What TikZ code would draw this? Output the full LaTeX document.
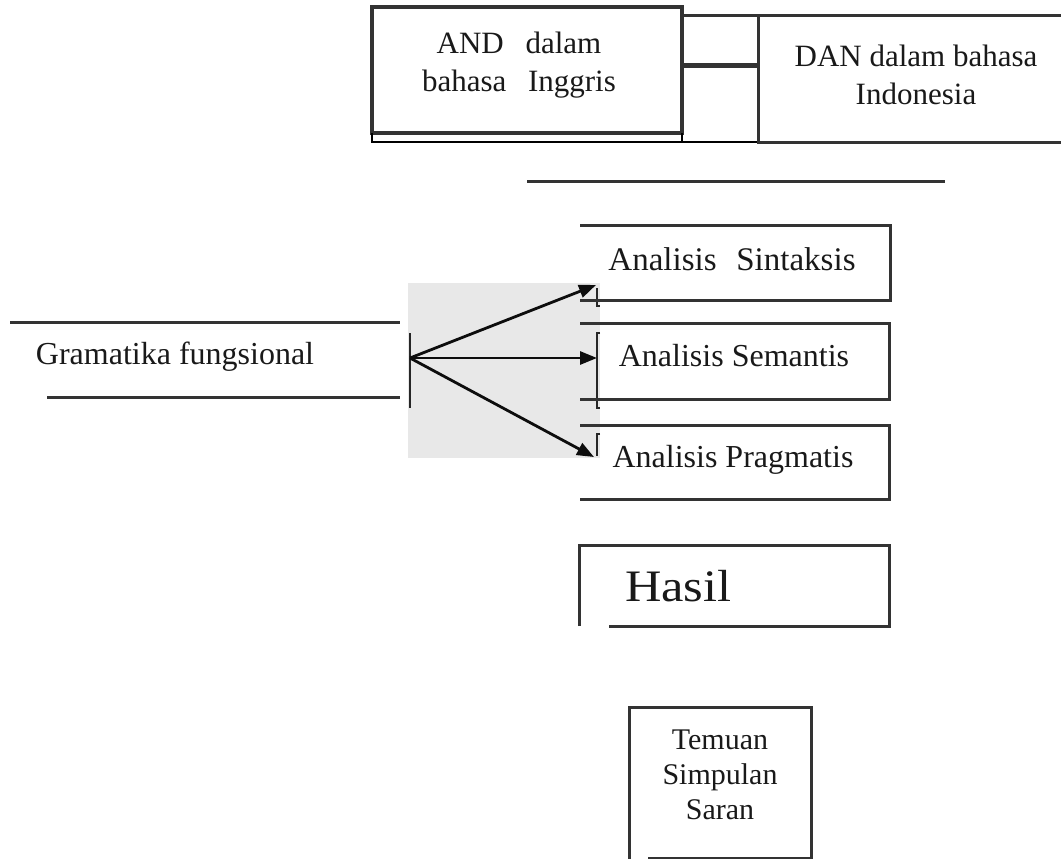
\documentclass[tikz,border=0pt]{standalone}
\usepackage{fontspec}
\setmainfont{Liberation Serif}
\usetikzlibrary{arrows.meta}
\tikzset{
  frame/.style={draw=black!80, line width=3pt},
  thinframe/.style={draw=black, line width=2pt},
  lbl/.style={font=\fontsize{32}{38}\selectfont, align=center, inner sep=0pt, text=black!90},
  arr/.style={draw=black!95, line width=2.8pt, -{Triangle[length=17pt,width=13pt]}},
  scan/.style={draw=black!85, line width=1.8pt},
}
\begin{document}
\begin{tikzpicture}[x=1pt,y=-1pt]
\useasboundingbox (0,0) rectangle (1061,859);
% top boxes
\draw[frame, line width=3.5pt] (372,7) -- (682,7) -- (682,133) -- (372,133) -- cycle;
\draw[thinframe] (372,133) -- (372,142) -- (758,142);
\draw[thinframe] (682,133) -- (682,142);
\draw[frame, line width=5pt] (682,66) -- (758,66);
\draw[frame] (682,16) -- (1061,16);
\draw[frame] (758,16) -- (758,142) -- (1061,142);
\node[lbl, font=\fontsize{31}{38}\selectfont] (and) at (519,65) {AND\hspace{0.7em}dalam\\bahasa\hspace{0.7em}Inggris};
\node[lbl, font=\fontsize{31}{38}\selectfont] (dan) at (916,75) {DAN dalam bahasa\\Indonesia};
% separator line
\draw[frame] (527,181) -- (945,181);
% scanned patch
\fill[black!9] (408,283) rectangle (600,458);
\draw[draw=black!85, line width=2pt] (410,333) -- (410,408);
\coordinate (apex) at (410,358);
\coordinate (t1) at (596,285);
\coordinate (t2) at (597,358);
\coordinate (t3) at (594,457);
\draw[arr] (apex) -- (t1);
\draw[arr] (apex) -- (t2);
\draw[arr] (apex) -- (t3);
\draw[scan] (597,288) -- (597,306) -- (600,306);
\draw[scan] (600,333) -- (597,333) -- (597,408) -- (600,408);
\draw[scan] (600,434) -- (597,434) -- (597,456);
% Gramatika
\draw[frame] (10,322) -- (400,322);
\draw[frame] (47,397) -- (400,397);
\node[lbl] (gram) at (175,357) {Gramatika fungsional};
% analysis boxes
\draw[frame] (580,225) -- (890,225) -- (890,300) -- (580,300);
\node[lbl, font=\fontsize{33}{38}\selectfont] (sin) at (732,259) {Analisis\hspace{0.6em}Sintaksis};
\draw[frame] (580,323) -- (889,323) -- (889,399) -- (580,399);
\node[lbl] (sem) at (734,356) {Analisis Semantis};
\draw[frame] (580,425) -- (889,425) -- (889,499) -- (580,499);
\node[lbl] (pra) at (733,460) {Analisis Pragmatis};
% Hasil
\draw[frame] (579,626) -- (579,545) -- (889,545) -- (889,626) -- (609,626);
\node[inner sep=0pt, text=black!90, anchor=base west, font=\fontsize{45}{50}\selectfont\addfontfeature{FakeStretch=1.12}] (has) at (625,601) {Hasil};
% Temuan
\draw[frame] (629,859) -- (629,707) -- (811,707) -- (811,859);
\draw[frame] (648,858) -- (811,858);
\node[lbl, font=\fontsize{30}{35}\selectfont] (tem) at (720,775) {Temuan\\Simpulan\\Saran};
\end{tikzpicture}
\end{document}
